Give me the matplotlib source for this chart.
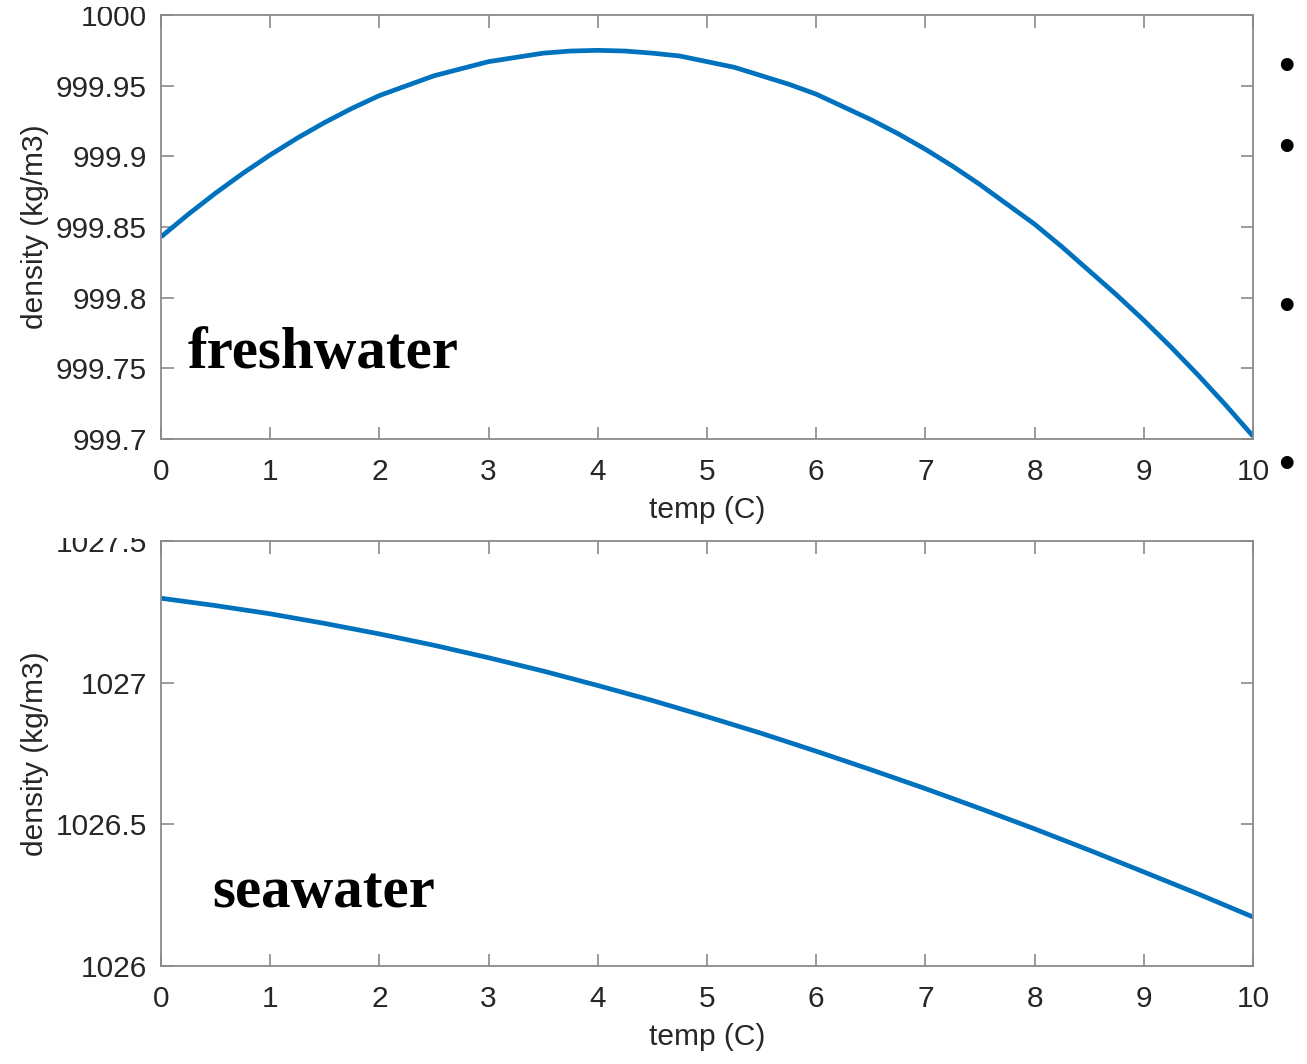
import matplotlib
matplotlib.use('Agg')
import matplotlib.pyplot as plt
from matplotlib.patches import Rectangle

# temperature grid (C) and densities
tempFresh = [0, 0.25, 0.5, 0.75, 1, 1.25, 1.5, 1.75, 2, 2.25, 2.5, 2.75,
             3, 3.25, 3.5, 3.75, 4, 4.25, 4.5, 4.75, 5, 5.25, 5.5, 5.75,
             6, 6.25, 6.5, 6.75, 7, 7.25, 7.5, 7.75, 8, 8.25, 8.5, 8.75,
             9, 9.25, 9.5, 9.75, 10]
rhoFresh = [999.843, 999.859, 999.874, 999.888, 999.901, 999.913, 999.924,
            999.934, 999.943, 999.950, 999.957, 999.962, 999.967, 999.970,
            999.973, 999.9745, 999.975, 999.9745, 999.973, 999.971, 999.967,
            999.963, 999.957, 999.951, 999.944, 999.935, 999.926, 999.916,
            999.905, 999.893, 999.880, 999.866, 999.852, 999.836, 999.819,
            999.802, 999.784, 999.765, 999.745, 999.724, 999.702]

tempSea = [0, 0.5, 1, 1.5, 2, 2.5, 3, 3.5, 4, 4.5, 5,
           5.5, 6, 6.5, 7, 7.5, 8, 8.5, 9, 9.5, 10]
rhoSea = [1027.298, 1027.272, 1027.243, 1027.209, 1027.172, 1027.132,
          1027.088, 1027.041, 1026.990, 1026.937, 1026.880, 1026.821,
          1026.758, 1026.693, 1026.626, 1026.556, 1026.484, 1026.409,
          1026.332, 1026.254, 1026.173]

xTicks = list(range(0, 11))
freshTicks = [999.7, 999.75, 999.8, 999.85, 999.9, 999.95, 1000]
freshLabels = ['999.7', '999.75', '999.8', '999.85', '999.9', '999.95', '1000']
seaTicks = [1026, 1026.5, 1027, 1027.5]
seaLabels = ['1026', '1026.5', '1027', '1027.5']

W, H = 1307, 1064
plt.rcParams['font.family'] = ['Liberation Sans', 'DejaVu Sans']
fig = plt.figure(figsize=(W/100, H/100), dpi=100)

lineColor = '#0072BD'
axColor = '#8a8a8a'
txtColor = '#262626'


def setupAxes(ax, yticks, ylabels, ylim):
    ax.set_xlim(0, 10)
    ax.set_ylim(*ylim)
    ax.set_xticks(xTicks)
    ax.set_yticks(yticks)
    ax.set_yticklabels(ylabels)
    ax.tick_params(direction='in', length=9, width=1.2, color=axColor,
                   labelsize=21.5, labelcolor=txtColor, top=True, right=True)
    ax.tick_params(axis='x', pad=14)
    ax.tick_params(axis='y', pad=10)
    for s in ax.spines.values():
        s.set_color(axColor)
        s.set_linewidth(1.3)
    ax.set_xlabel('temp (C)', fontsize=21.5, color=txtColor, labelpad=7)
    ax.set_ylabel('density (kg/m3)', fontsize=21.5, color=txtColor, labelpad=5)


ax1 = fig.add_axes([161/W, 1-439/H, 1092/W, 424/H])
ax1.plot(tempFresh, rhoFresh, color=lineColor, lw=3.4, solid_capstyle='butt')
setupAxes(ax1, freshTicks, freshLabels, (999.7, 1000))
ax1.text(0.24, 999.750, 'freshwater', family=['Liberation Serif'],
         fontweight='bold', fontsize=42.5, va='baseline', ha='left')

ax2 = fig.add_axes([161/W, 1-966/H, 1092/W, 425/H])
ax2.plot(tempSea, rhoSea, color=lineColor, lw=3.4, solid_capstyle='butt')
setupAxes(ax2, seaTicks, seaLabels, (1026, 1027.5))
ax2.text(0.467, 1026.208, 'seawater', family=['Liberation Serif'],
         fontweight='bold', fontsize=42.5, va='baseline', ha='left')

# screenshot crop edges hiding part of the top tick labels
fig.patches.append(Rectangle((40/W, 1-538/H), 118/W, 20/H, transform=fig.transFigure,
                             facecolor='white', edgecolor='none', zorder=10))
fig.patches.append(Rectangle((40/W, 1-7/H), 118/W, 7/H, transform=fig.transFigure,
                             facecolor='white', edgecolor='none', zorder=10))

# bullet points from the slide next to the chart
for yb in [68, 149, 308, 466]:
    fig.text(1286/W, 1-yb/H, '\u2022', fontsize=34, ha='center', va='center',
             color='black')

fig.savefig('out.png', dpi=100)
